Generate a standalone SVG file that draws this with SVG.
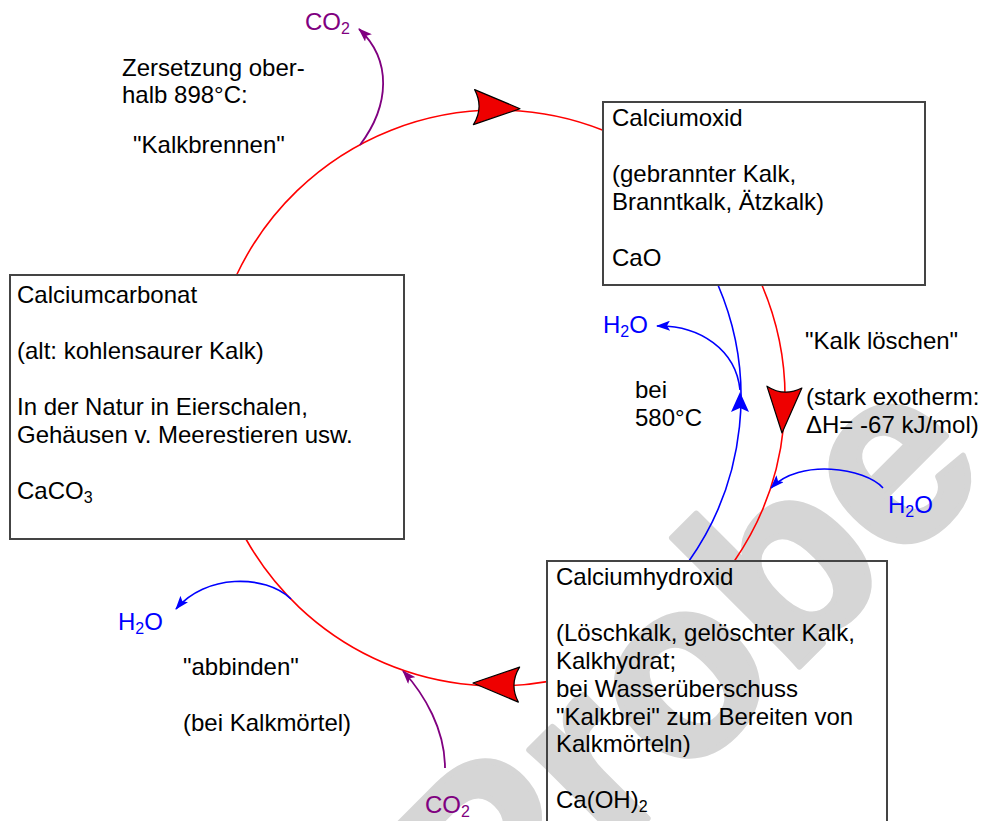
<svg xmlns="http://www.w3.org/2000/svg" width="982" height="821" viewBox="0 0 982 821">
<style>
text{font-family:"Liberation Sans",Arial,sans-serif;font-size:24px;fill:#000}
.box{fill:none;stroke:#444;stroke-width:2}
.red{fill:none;stroke:#ff0000;stroke-width:1.6}
.blue{fill:none;stroke:#0000ff;stroke-width:1.6}
.pur{fill:none;stroke:#800080;stroke-width:1.8}
.bt{fill:#0000ff}
.pt{fill:#800080}
.head{fill:#ee0000;stroke:#000;stroke-width:1.2;stroke-linejoin:round}
.wm{font-family:"Liberation Sans",Arial,sans-serif;font-size:250px;font-weight:bold;fill:#d6d6d6;stroke:#d6d6d6;stroke-width:6;stroke-linejoin:round}
</style>
<defs>
<path id="rh" d="M0,0 L-46,-17.5 Q-36,0 -46,17.5 Z"/>
<marker id="mb" viewBox="0 0 14 10" refX="13" refY="5" markerWidth="14" markerHeight="10" markerUnits="userSpaceOnUse" orient="auto"><path d="M0,0 L14,5 L0,10 L3,5 Z" fill="#0000ff"/></marker>
<marker id="mp" viewBox="0 0 14 10" refX="13" refY="5" markerWidth="14" markerHeight="10" markerUnits="userSpaceOnUse" orient="auto"><path d="M0,0 L14,5 L0,10 L3,5 Z" fill="#800080"/></marker>
</defs>
<rect width="982" height="821" fill="#fff"/>
<text class="wm" transform="translate(493,973) rotate(-45)">Probe</text>

<g id="connectors">
<path class="red" d="M236.6,275 A288,288 0 0 1 603,130.2"/>
<path class="red" d="M761.9,285 A288,288 0 0 1 734.4,561"/>
<path class="red" d="M547,681.6 A288,288 0 0 1 245.9,539"/>
<use href="#rh" class="head" transform="translate(520,108.7) rotate(2)"/>
<use href="#rh" class="head" transform="translate(782,433) rotate(93)"/>
<use href="#rh" class="head" transform="translate(473,683) rotate(182)"/>
<path class="blue" d="M689,561 A284.4,284.4 0 0 0 718,285"/>
<path class="bt" d="M740,392 L749,412 L740,408 L731,412 Z"/>
<path class="blue" d="M740,390 C736,350 700,325 657,326" marker-end="url(#mb)"/>
<path class="blue" d="M883,488 C865,468 800,458 771,488" marker-end="url(#mb)"/>
<path class="blue" d="M291,599 C265,574 205,574 176,609" marker-end="url(#mb)"/>
<path class="pur" d="M360,145 C390,105 392,60 359,29" marker-end="url(#mp)"/>
<path class="pur" d="M445,768 C445,730 425,695 403,671" marker-end="url(#mp)"/>
</g>

<g id="node-caco3">
<rect class="box" x="10" y="275" width="394" height="264"/>
<text x="17" y="303">Calciumcarbonat</text>
<text x="17" y="359">(alt: kohlensaurer Kalk)</text>
<text x="17" y="415">In der Natur in Eierschalen,</text>
<text x="17" y="443">Gehäusen v. Meerestieren usw.</text>
<text x="17" y="499">CaCO<tspan font-size="16" dy="4">3</tspan></text>
</g>

<g id="node-cao">
<rect class="box" x="603" y="102" width="322" height="183"/>
<text x="612" y="126">Calciumoxid</text>
<text x="612" y="182">(gebrannter Kalk,</text>
<text x="612" y="210">Branntkalk, Ätzkalk)</text>
<text x="612" y="266">CaO</text>
</g>

<g id="node-caoh2">
<rect class="box" x="547" y="561" width="340" height="270"/>
<text x="556" y="585">Calciumhydroxid</text>
<text x="556" y="641">(Löschkalk, gelöschter Kalk,</text>
<text x="556" y="669">Kalkhydrat;</text>
<text x="556" y="697">bei Wasserüberschuss</text>
<text x="556" y="725">"Kalkbrei" zum Bereiten von</text>
<text x="556" y="752">Kalkmörteln)</text>
<text x="556" y="808">Ca(OH)<tspan font-size="16" dy="4">2</tspan></text>
</g>

<g id="labels">
<text x="122" y="76">Zersetzung ober-</text>
<text x="122" y="103">halb 898°C:</text>
<text x="133" y="153">"Kalkbrennen"</text>
<text x="805" y="349">"Kalk löschen"</text>
<text x="806" y="405">(stark exotherm:</text>
<text x="806" y="433">ΔH= -67 kJ/mol)</text>
<text x="635" y="398">bei</text>
<text x="635" y="426">580°C</text>
<text x="183" y="675">"abbinden"</text>
<text x="183" y="731">(bei Kalkmörtel)</text>
<text class="bt" x="603" y="333">H<tspan font-size="16" dy="4">2</tspan><tspan dy="-4">O</tspan></text>
<text class="bt" x="888" y="513">H<tspan font-size="16" dy="4">2</tspan><tspan dy="-4">O</tspan></text>
<text class="bt" x="118" y="630">H<tspan font-size="16" dy="4">2</tspan><tspan dy="-4">O</tspan></text>
<text class="pt" x="305" y="30">CO<tspan font-size="16" dy="4">2</tspan></text>
<text class="pt" x="425" y="813">CO<tspan font-size="16" dy="4">2</tspan></text>
</g>
</svg>
